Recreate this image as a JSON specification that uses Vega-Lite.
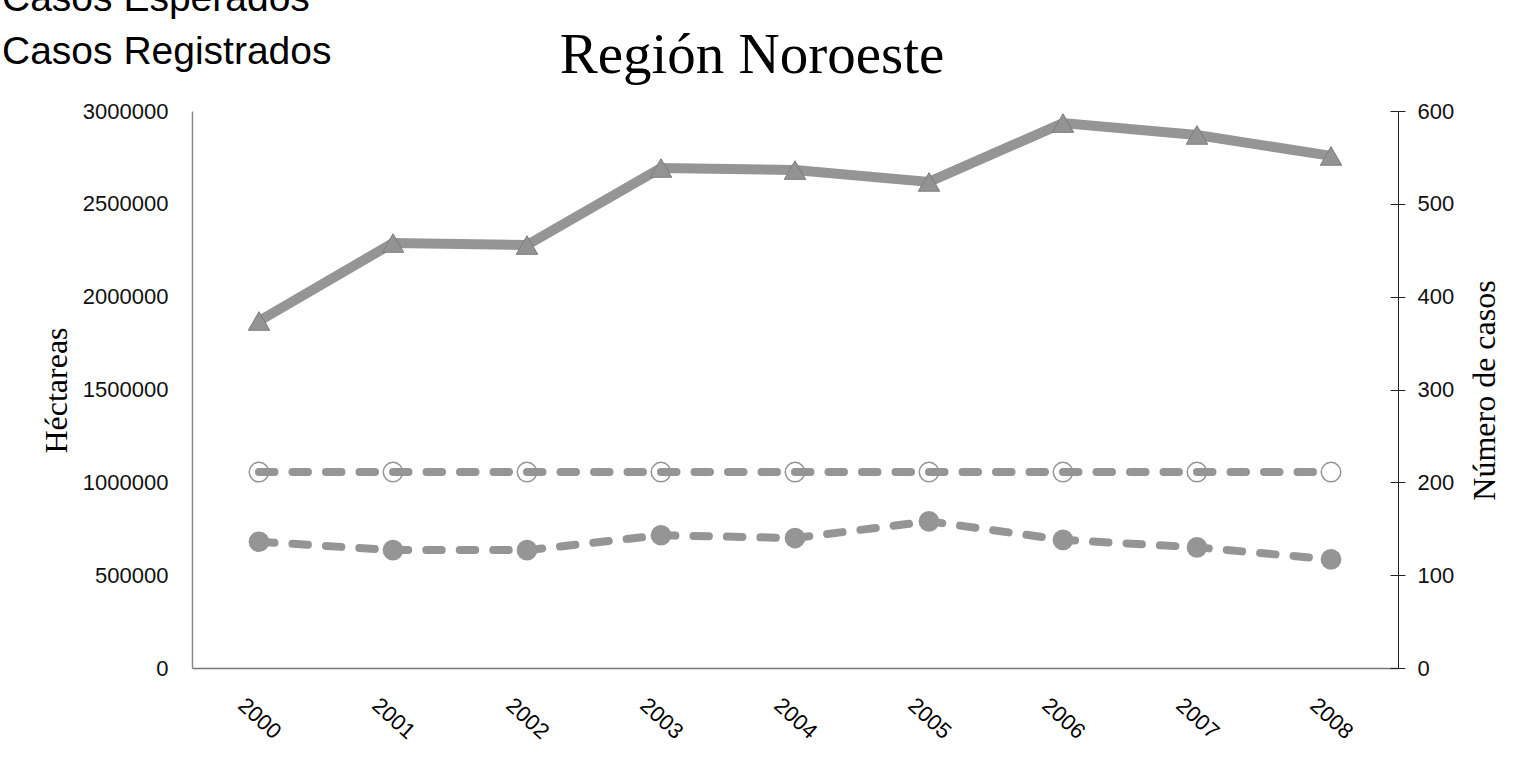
{
  "$schema": "https://vega.github.io/schema/vega-lite/v6.json",
  "width": 1206,
  "height": 557,
  "autosize": {"type": "none"},
  "padding": {"left": 192, "top": 111, "right": 117, "bottom": 89},
  "background": "white",
  "title": {
    "text": "Región Noroeste",
    "font": "Liberation Serif",
    "fontSize": 57,
    "fontWeight": "normal",
    "color": "#000000",
    "anchor": "middle",
    "frame": "group",
    "baseline": "alphabetic",
    "dx": -43,
    "offset": -151
  },
  "config": {
    "view": {"stroke": null},
    "axis": {"grid": false, "labelFont": "Liberation Sans", "titleFont": "Liberation Serif", "titleFontWeight": "normal", "labelColor": "#111111", "titleColor": "#000000"}
  },
  "data": {
    "values": [
      {"anio": "2000", "serie": "Héctareas", "valor": 1869000},
      {"anio": "2001", "serie": "Héctareas", "valor": 2289000},
      {"anio": "2002", "serie": "Héctareas", "valor": 2278000},
      {"anio": "2003", "serie": "Héctareas", "valor": 2693000},
      {"anio": "2004", "serie": "Héctareas", "valor": 2682000},
      {"anio": "2005", "serie": "Héctareas", "valor": 2618000},
      {"anio": "2006", "serie": "Héctareas", "valor": 2935000},
      {"anio": "2007", "serie": "Héctareas", "valor": 2871000},
      {"anio": "2008", "serie": "Héctareas", "valor": 2758000},
      {"anio": "2000", "serie": "Casos Esperados", "valor": 211},
      {"anio": "2001", "serie": "Casos Esperados", "valor": 211},
      {"anio": "2002", "serie": "Casos Esperados", "valor": 211},
      {"anio": "2003", "serie": "Casos Esperados", "valor": 211},
      {"anio": "2004", "serie": "Casos Esperados", "valor": 211},
      {"anio": "2005", "serie": "Casos Esperados", "valor": 211},
      {"anio": "2006", "serie": "Casos Esperados", "valor": 211},
      {"anio": "2007", "serie": "Casos Esperados", "valor": 211},
      {"anio": "2008", "serie": "Casos Esperados", "valor": 211},
      {"anio": "2000", "serie": "Casos Registrados", "valor": 136},
      {"anio": "2001", "serie": "Casos Registrados", "valor": 127},
      {"anio": "2002", "serie": "Casos Registrados", "valor": 127},
      {"anio": "2003", "serie": "Casos Registrados", "valor": 143},
      {"anio": "2004", "serie": "Casos Registrados", "valor": 140},
      {"anio": "2005", "serie": "Casos Registrados", "valor": 158},
      {"anio": "2006", "serie": "Casos Registrados", "valor": 138},
      {"anio": "2007", "serie": "Casos Registrados", "valor": 130},
      {"anio": "2008", "serie": "Casos Registrados", "valor": 117}
    ]
  },
  "encoding": {
    "x": {
      "field": "anio",
      "type": "ordinal",
      "scale": {"type": "point", "padding": 0.5},
      "axis": {
        "title": null,
        "ticks": false,
        "tickSize": 0,
        "domainColor": "#777777",
        "domainWidth": 1.5,
        "labelAngle": 42,
        "labelAlign": "center",
        "labelBaseline": "middle",
        "labelPadding": 50,
        "labelFontSize": 22,
        "labelColor": "#000000"
      }
    }
  },
  "layer": [
    {
      "transform": [{"filter": "datum.serie === 'Héctareas'"}],
      "encoding": {
        "y": {
          "field": "valor",
          "type": "quantitative",
          "scale": {"domain": [0, 3000000], "nice": false, "zero": true},
          "axis": {
            "orient": "left",
            "values": [0, 500000, 1000000, 1500000, 2000000, 2500000, 3000000],
            "format": "d",
            "ticks": false,
            "tickSize": 0,
            "labelPadding": 24,
            "labelFontSize": 22,
            "domainColor": "#888888",
            "domainWidth": 1.5,
            "title": "Héctareas",
            "titleFontSize": 32,
            "titleAngle": -90,
            "titleAlign": "center",
            "titleBaseline": "middle",
            "titleX": -136,
            "titleY": 279
          }
        }
      },
      "layer": [
        {"mark": {"type": "line", "color": "#959595", "strokeWidth": 10}},
        {"mark": {"type": "point", "shape": "triangle-up", "filled": true, "size": 460, "fill": "#939393", "stroke": "#7d7d7d", "strokeWidth": 1, "opacity": 1}}
      ]
    },
    {
      "encoding": {
        "color": {
          "field": "serie",
          "type": "nominal",
          "scale": {"domain": ["Casos Esperados", "Casos Registrados"], "range": ["#959595", "#959595"]},
          "legend": {
            "orient": "none",
            "legendX": -229,
            "legendY": -132,
            "title": null,
            "padding": 0,
            "labelFont": "Liberation Sans",
            "labelFontSize": 39,
            "labelColor": "#000000",
            "labelLimit": 0,
            "labelOffset": 0,
            "symbolSize": 0,
            "symbolOpacity": 0,
            "symbolStrokeWidth": 0,
            "rowPadding": 13
          }
        }
      },
      "layer": [
        {
          "transform": [{"filter": "datum.serie === 'Casos Esperados'"}],
          "mark": {"type": "point", "shape": "circle", "filled": false, "fill": "white", "size": 380, "strokeWidth": 1.5, "opacity": 1},
          "encoding": {"y": {"field": "valor", "type": "quantitative", "scale": {"domain": [0, 600], "nice": false}, "axis": null}}
        },
        {
          "transform": [{"filter": "datum.serie === 'Casos Esperados'"}],
          "mark": {"type": "line", "strokeWidth": 8, "strokeDash": [15.5, 18], "strokeCap": "round"},
          "encoding": {
            "y": {
              "field": "valor",
              "type": "quantitative",
              "scale": {"domain": [0, 600], "nice": false},
              "axis": {
                "orient": "right",
                "values": [0, 100, 200, 300, 400, 500, 600],
                "tickSize": 7,
                "tickColor": "#222222",
                "domainColor": "#222222",
                "labelPadding": 12,
                "labelFontSize": 22,
                "title": "Número de casos",
                "titleFontSize": 32,
                "titleAngle": -90,
                "titleAlign": "center",
                "titleBaseline": "middle",
                "titleX": 86,
                "titleY": 279
              }
            }
          }
        },
        {
          "transform": [{"filter": "datum.serie === 'Casos Registrados'"}],
          "mark": {"type": "line", "strokeWidth": 8, "strokeDash": [15.5, 18], "strokeCap": "round"},
          "encoding": {
            "y": {
              "field": "valor",
              "type": "quantitative",
              "scale": {"domain": [0, 600], "nice": false},
              "axis": {
                "orient": "right",
                "values": [0, 100, 200, 300, 400, 500, 600],
                "tickSize": -8,
                "tickColor": "#222222",
                "domain": false,
                "labels": false,
                "title": null
              }
            }
          }
        },
        {
          "transform": [{"filter": "datum.serie === 'Casos Registrados'"}],
          "mark": {"type": "point", "shape": "circle", "filled": true, "size": 430, "opacity": 1},
          "encoding": {"y": {"field": "valor", "type": "quantitative", "scale": {"domain": [0, 600], "nice": false}, "axis": null}}
        }
      ],
      "resolve": {"axis": {"y": "independent"}}
    }
  ],
  "resolve": {"scale": {"y": "independent"}}
}
